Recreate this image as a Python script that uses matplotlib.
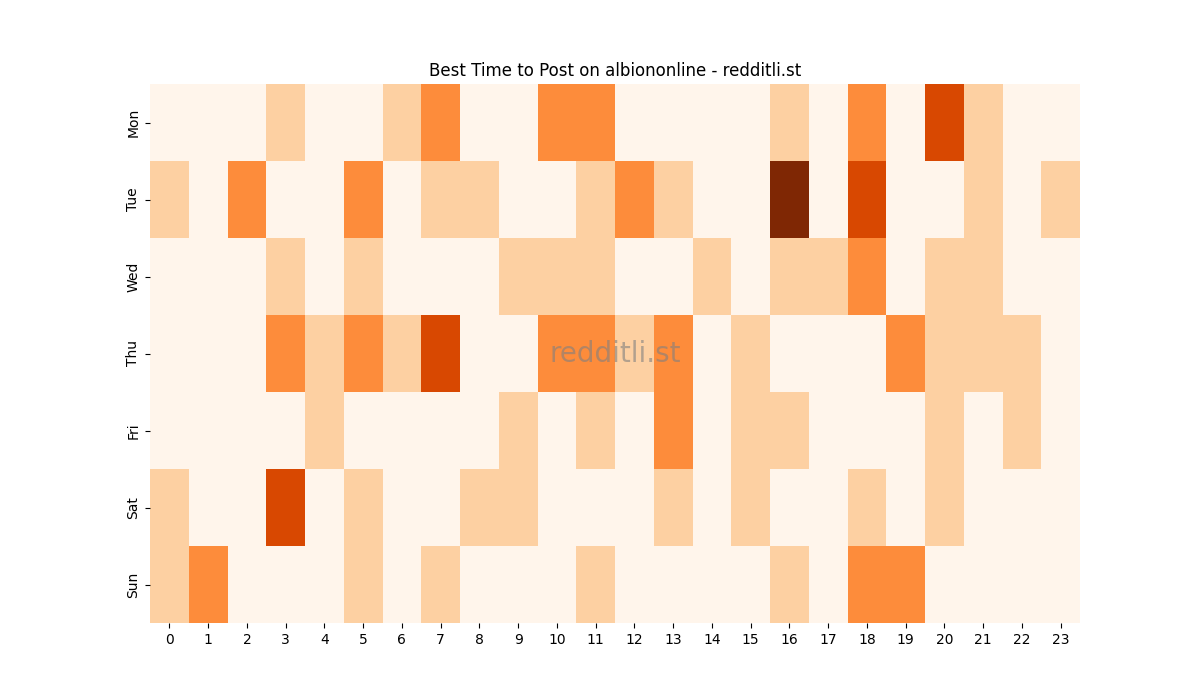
import matplotlib
matplotlib.use("Agg")
import matplotlib.pyplot as plt
import seaborn as sns
import numpy as np

days = ['Mon', 'Tue', 'Wed', 'Thu', 'Fri', 'Sat', 'Sun']
hours = list(range(24))

mon = [0, 0, 0, 1, 0, 0, 1, 2, 0, 0, 2, 2, 0, 0, 0, 0, 1, 0, 2, 0, 3, 1, 0, 0]
tue = [1, 0, 2, 0, 0, 2, 0, 1, 1, 0, 0, 1, 2, 1, 0, 0, 4, 0, 3, 0, 0, 1, 0, 1]
wed = [0, 0, 0, 1, 0, 1, 0, 0, 0, 1, 1, 1, 0, 0, 1, 0, 1, 1, 2, 0, 1, 1, 0, 0]
thu = [0, 0, 0, 2, 1, 2, 1, 3, 0, 0, 2, 2, 1, 2, 0, 1, 0, 0, 0, 2, 1, 1, 1, 0]
fri = [0, 0, 0, 0, 1, 0, 0, 0, 0, 1, 0, 1, 0, 2, 0, 1, 1, 0, 0, 0, 1, 0, 1, 0]
sat = [1, 0, 0, 3, 0, 1, 0, 0, 1, 1, 0, 0, 0, 1, 0, 1, 0, 0, 1, 0, 1, 0, 0, 0]
sun = [1, 2, 0, 0, 0, 1, 0, 1, 0, 0, 0, 1, 0, 0, 0, 0, 1, 0, 2, 2, 0, 0, 0, 0]

data = np.array([mon, tue, wed, thu, fri, sat, sun])

fig, ax = plt.subplots(figsize=(12, 7), dpi=100)
sns.heatmap(data, cmap='Oranges', cbar=False, ax=ax,
            xticklabels=hours, yticklabels=days)
ax.set_yticklabels(days, rotation=90, va='center')
ax.set_xticklabels(hours, rotation=0)
ax.set_title("Best Time to Post on albiononline - redditli.st")
ax.text(0.5, 0.5, 'redditli.st', transform=ax.transAxes, fontsize=20,
        color='gray', alpha=0.6, ha='center', va='center')
plt.savefig('out.png', dpi=100)
